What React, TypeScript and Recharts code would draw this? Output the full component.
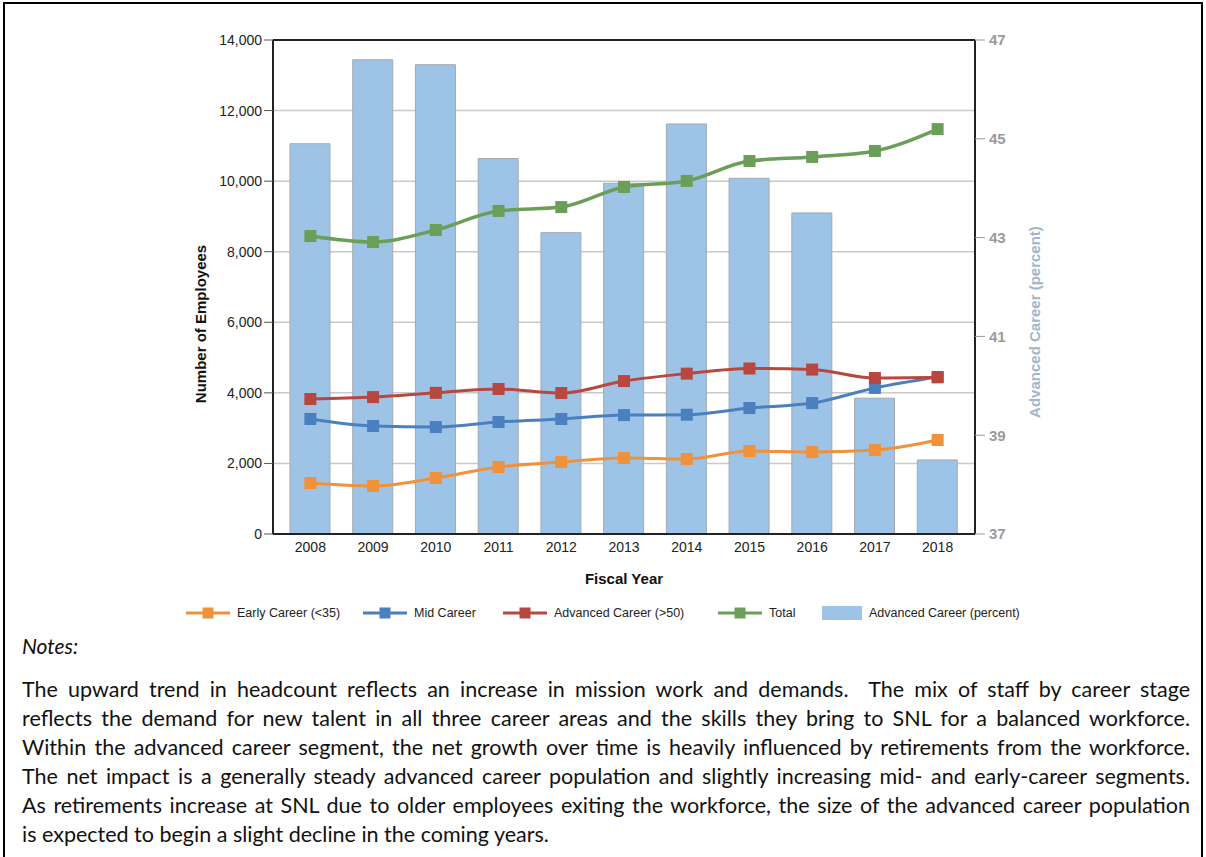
import { ComposedChart, Bar, Line, XAxis, YAxis, CartesianGrid, ReferenceLine } from 'recharts'

// values
const years = ['2008', '2009', '2010', '2011', '2012', '2013', '2014', '2015', '2016', '2017', '2018']
const earlyCareer = [1445, 1360, 1590, 1900, 2040, 2155, 2125, 2350, 2325, 2380, 2665]
const midCareer = [3260, 3060, 3030, 3175, 3260, 3370, 3380, 3570, 3710, 4140, 4450]
const advancedCareer = [3825, 3880, 4000, 4110, 3995, 4335, 4545, 4690, 4660, 4420, 4440]
const total = [8445, 8275, 8615, 9155, 9265, 9835, 10005, 10570, 10685, 10855, 11475]
const advancedPct = [44.9, 46.6, 46.5, 44.6, 43.1, 44.1, 45.3, 44.2, 43.5, 39.75, 38.5]

const leftTicks = [0, 2000, 4000, 6000, 8000, 10000, 12000, 14000]
const rightTicks = [37, 39, 41, 43, 45, 47]

const noteLines = [
  'The upward trend in headcount reflects an increase in mission work and demands.  The mix of staff by career stage',
  'reflects the demand for new talent in all three career areas and the skills they bring to SNL for a balanced workforce.',
  'Within the advanced career segment, the net growth over time is heavily influenced by retirements from the workforce.',
  'The net impact is a generally steady advanced career population and slightly increasing mid- and early-career segments.',
  'As retirements increase at SNL due to older employees exiting the workforce, the size of the advanced career population',
  'is expected to begin a slight decline in the coming years.',
]

const COLORS = {
  early: '#f0913b',
  mid: '#4a7fc0',
  adv: '#b7473f',
  total: '#6b9f59',
  bar: '#9dc4e6',
}

const data = years.map((y, i) => ({
  year: y,
  early: earlyCareer[i],
  mid: midCareer[i],
  adv: advancedCareer[i],
  total: total[i],
  pct: advancedPct[i],
}))

const FONT = '"Liberation Sans", Arial, sans-serif'
const NOTE_FONT = 'Lato, "Open Sans", sans-serif'

const SquareDot = (color: string) => (props: any) => {
  const { cx, cy } = props
  if (cx == null || cy == null) return null
  return <rect x={cx - 6} y={cy - 6} width={12} height={12} fill={color} />
}

const LeftTitle = (props: any) => {
  const { x, y, height } = props.viewBox
  const cx = x + 27
  const cy = y + height / 2 + 37
  return (
    <text x={cx} y={cy} transform={`rotate(-90, ${cx}, ${cy})`} textAnchor="middle" dominantBaseline="central"
      fontFamily={FONT} fontSize={15} fontWeight="bold" fill="#111">
      Number of Employees
    </text>
  )
}

const RightTitle = (props: any) => {
  const { x, y, height } = props.viewBox
  const cx = x + 59
  const cy = y + height / 2 + 35
  return (
    <text x={cx} y={cy} transform={`rotate(-90, ${cx}, ${cy})`} textAnchor="middle" dominantBaseline="central"
      fontFamily={FONT} fontSize={15} fontWeight="bold" fill="#9fb6cb">
      Advanced Career (percent)
    </text>
  )
}

const LegendLine = ({ color }: { color: string }) => (
  <svg width={46} height={14} style={{ marginRight: 6 }}>
    <line x1={1} y1={7} x2={45} y2={7} stroke={color} strokeWidth={3} />
    <rect x={17.5} y={1.5} width={11} height={11} fill={color} />
  </svg>
)

const legendItems = [
  { label: 'Early Career (<35)', color: COLORS.early, left: 185 },
  { label: 'Mid Career', color: COLORS.mid, left: 362 },
  { label: 'Advanced Career (>50)', color: COLORS.adv, left: 502 },
  { label: 'Total', color: COLORS.total, left: 717 },
]

export default function App() {
  return (
    <div style={{ position: 'fixed', left: 0, top: 0, width: 1206, height: 857, background: '#fff', overflow: 'hidden' }}>
      {/* outer frame */}
      <div style={{ position: 'absolute', left: 3, top: 2, width: 1196, height: 900, borderTop: '2px solid #000', borderLeft: '2px solid #000', borderRight: '2px solid #000' }} />

      <div style={{ position: 'absolute', left: 0, top: 0 }}>
        <ComposedChart width={1206} height={600} data={data} margin={{ top: 40, right: 131, left: 173, bottom: 15 }}>
          <CartesianGrid vertical={false} stroke="#c9c9c9" strokeWidth={1.5} yAxisId="left" />
          <XAxis dataKey="year" height={51} padding={{ left: 6, right: 6 }} tickLine={false}
            axisLine={{ stroke: '#222', strokeWidth: 2 }}
            tick={{ fill: '#222', fontSize: 14, fontFamily: FONT }} tickSize={6} tickMargin={2}
            label={{ value: 'Fiscal Year', position: 'insideBottom', offset: 1, fill: '#111', fontSize: 15, fontWeight: 'bold', fontFamily: FONT }} />
          <YAxis yAxisId="left" width={100} domain={[0, 14000]} ticks={leftTicks} interval={0}
            tickFormatter={(v: number) => v.toLocaleString('en-US')}
            axisLine={{ stroke: '#222', strokeWidth: 2 }} tickLine={{ stroke: '#555' }} tickSize={9} tickMargin={2}
            tick={{ fill: '#222', fontSize: 14, fontFamily: FONT }}
            label={<LeftTitle />} />
          <YAxis yAxisId="right" orientation="right" width={100} domain={[37, 47]} ticks={rightTicks} interval={0}
            allowDataOverflow
            axisLine={{ stroke: '#222', strokeWidth: 2 }} tickLine={{ stroke: '#999' }} tickSize={10} tickMargin={4}
            tick={{ fill: '#9a9a9a', fontSize: 15, fontWeight: 'bold', fontFamily: FONT }}
            label={<RightTitle />} />
          <ReferenceLine yAxisId="left" y={14000} stroke="#222" strokeWidth={2} />
          <Bar yAxisId="right" dataKey="pct" barSize={40} fill={COLORS.bar} stroke="#a3a9ae" strokeWidth={1} isAnimationActive={false} />
          <Line yAxisId="left" type="monotone" dataKey="early" stroke={COLORS.early} strokeWidth={3} dot={SquareDot(COLORS.early)} activeDot={false} isAnimationActive={false} />
          <Line yAxisId="left" type="monotone" dataKey="mid" stroke={COLORS.mid} strokeWidth={3} dot={SquareDot(COLORS.mid)} activeDot={false} isAnimationActive={false} />
          <Line yAxisId="left" type="monotone" dataKey="adv" stroke={COLORS.adv} strokeWidth={3} dot={SquareDot(COLORS.adv)} activeDot={false} isAnimationActive={false} />
          <Line yAxisId="left" type="monotone" dataKey="total" stroke={COLORS.total} strokeWidth={3.5} dot={SquareDot(COLORS.total)} activeDot={false} isAnimationActive={false} />
        </ComposedChart>
      </div>

      {/* legend */}
      {legendItems.map((it) => (
        <div key={it.label} style={{ position: 'absolute', left: it.left, top: 606, display: 'flex', alignItems: 'center', fontFamily: FONT, fontSize: 12.5, color: '#222' }}>
          <LegendLine color={it.color} />
          <span>{it.label}</span>
        </div>
      ))}
      <div style={{ position: 'absolute', left: 822, top: 606, display: 'flex', alignItems: 'center', fontFamily: FONT, fontSize: 12.5, color: '#222' }}>
        <div style={{ width: 40, height: 14, background: COLORS.bar, marginRight: 7 }} />
        <span>Advanced Career (percent)</span>
      </div>

      {/* notes */}
      <div style={{ position: 'absolute', left: 22, top: 633, fontFamily: NOTE_FONT, fontStyle: 'italic', fontSize: 21, color: '#111' }}>
        Notes:
      </div>
      <div style={{ position: 'absolute', left: 22, top: 675, width: 1168, fontFamily: NOTE_FONT, fontSize: 21.5, color: '#111', lineHeight: '29px' }}>
        {noteLines.map((l, i) => (
          <div key={i} style={{ whiteSpace: 'pre', textAlign: 'justify', textAlignLast: i < noteLines.length - 1 ? 'justify' : 'left' }}>{l}</div>
        ))}
      </div>
    </div>
  )
}
